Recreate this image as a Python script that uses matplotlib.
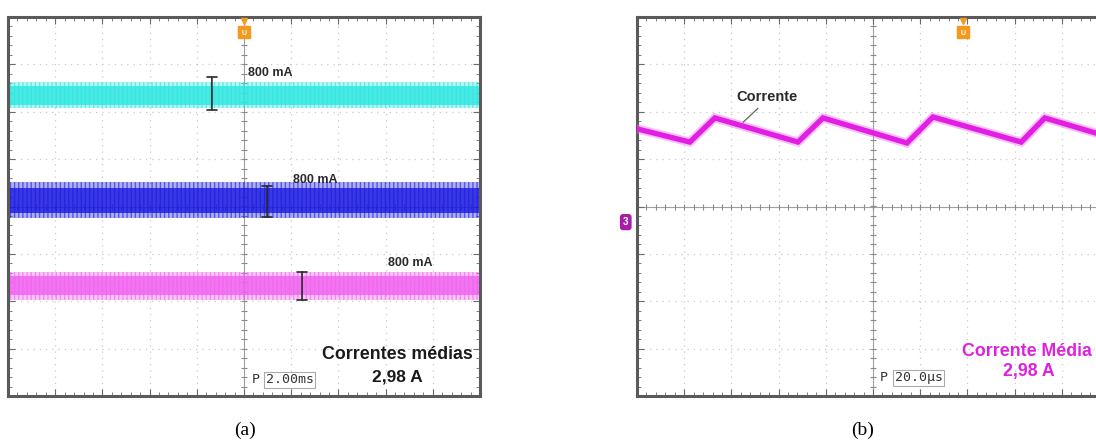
import numpy as np
import matplotlib
matplotlib.use("Agg")
import matplotlib.pyplot as plt

# ---------------- data (oscilloscope divisions) ----------------
a_names = ["cyan", "blue", "magenta"]
a_colors = ["#2ee6e0", "#1a1ae0", "#f060ee"]
a_outer_top = [2.63, 0.52, -1.38]
a_outer_bot = [2.08, -0.24, -1.97]
a_core_top = [2.55, 0.39, -1.47]
a_core_bot = [2.14, -0.14, -1.87]
a_x_ends = [-5.0, 5.0]
# ripple markers (I-bars) : x, y_top, y_bottom
a_bar_x = [-0.68, 0.49, 1.23]
a_bar_top = [2.73, 0.43, -1.38]
a_bar_bot = [2.04, -0.22, -1.97]
a_label_x = [0.08, 1.04, 3.05]
a_label_y = [2.82, 0.56, -1.19]
a_labels = ["800 mA", "800 mA", "800 mA"]

b_x = [-5.0, -3.88, -3.35, -1.59, -1.06, 0.72, 1.27, 3.14, 3.64, 4.72, 5.0]
b_y = [1.64, 1.36, 1.87, 1.36, 1.87, 1.34, 1.89, 1.36, 1.87, 1.55, 1.48]

a_timebase = "2.00ms"
b_timebase = "20.0\u00b5s"

# ---------------- figure ----------------
W, H = 1096, 440
fig = plt.figure(figsize=(W / 100, H / 100), dpi=100)
fig.patch.set_facecolor("white")
plt.rcParams["hatch.linewidth"] = 1.0

SANS = ["Liberation Sans", "DejaVu Sans"]
MONO = ["DejaVu Sans Mono"]


def scope_axes(rect):
    ax = fig.add_axes(rect)
    ax.set_xlim(-5, 5)
    ax.set_ylim(-4, 4)
    ax.set_facecolor("white")
    for s in ax.spines.values():
        s.set_color("#5a5a5a")
        s.set_linewidth(2.2)
    # dotted division grid
    for gx in range(-4, 5):
        if gx != 0:
            ax.axvline(gx, color="#c8c8c8", lw=0.9, ls=(0, (1, 4)), zorder=0)
    for gy in range(-3, 4):
        if gy != 0:
            ax.axhline(gy, color="#c8c8c8", lw=0.9, ls=(0, (1, 4)), zorder=0)
    # centre crosshair with minor ticks
    ax.axvline(0, color="#a0a0a0", lw=0.8, zorder=0)
    ax.axhline(0, color="#a0a0a0", lw=0.8, zorder=0)
    tx = np.arange(-5, 5.01, 0.2)
    ty = np.arange(-4, 4.01, 0.2)
    ax.plot(tx, np.zeros_like(tx), ls="none", marker="|", ms=4, color="#8a8a8a", mew=0.8, zorder=0)
    ax.plot(np.zeros_like(ty), ty, ls="none", marker="_", ms=4, color="#8a8a8a", mew=0.8, zorder=0)
    # border ticks
    ax.set_xticks(range(-5, 6))
    ax.set_yticks(range(-4, 5))
    ax.set_xticks(tx, minor=True)
    ax.set_yticks(ty, minor=True)
    ax.tick_params(which="both", direction="in", top=True, right=True,
                   labelbottom=False, labelleft=False, color="#6a6a6a")
    ax.tick_params(which="major", length=5, width=0.8)
    ax.tick_params(which="minor", length=3, width=0.6)
    return ax


def trigger(ax, x):
    ax.plot([x], [3.68], marker="s", ms=8, color="#f39a1e", clip_on=False, zorder=6)
    ax.text(x, 3.66, "U", fontsize=5, fontweight="bold", family=SANS, color="white",
            ha="center", va="center", zorder=7)
    ax.plot([x], [3.92], marker="v", ms=5, color="#f39a1e", clip_on=False, zorder=6)


bottom = (H - 396) / H
height = (396 - 17) / H
width = 472 / W

# ---------------- panel (a) ----------------
axa = scope_axes([8 / W, bottom, width, height])
for i in range(3):
    axa.fill_between(a_x_ends, [a_outer_bot[i]] * 2, [a_outer_top[i]] * 2,
                     facecolor=a_colors[i], alpha=0.35, lw=0, zorder=2)
    axa.fill_between(a_x_ends, [a_outer_bot[i]] * 2, [a_outer_top[i]] * 2,
                     facecolor="none", edgecolor=a_colors[i], hatch="||||", alpha=0.6,
                     lw=0, zorder=2)
    axa.fill_between(a_x_ends, [a_core_bot[i]] * 2, [a_core_top[i]] * 2,
                     color=a_colors[i], alpha=0.8, lw=0, zorder=2)
    axa.annotate("", xy=(a_bar_x[i], a_bar_bot[i]), xytext=(a_bar_x[i], a_bar_top[i]),
                 arrowprops=dict(arrowstyle="|-|,widthA=0.35,widthB=0.35",
                                 color="#2a2a2a", lw=1.2, shrinkA=0, shrinkB=0), zorder=4)
    axa.text(a_label_x[i], a_label_y[i], a_labels[i], fontsize=9, fontweight="bold",
             family=SANS, ha="left", va="center", color="#2a2a2a", zorder=5)

axa.text(3.24, -3.13, "Correntes médias", fontsize=12.8, fontweight="bold",
         family=SANS, ha="center", va="center", color="#1a1a1a", zorder=5)
axa.text(3.25, -3.60, "2,98 A", fontsize=12.5, fontweight="bold",
         family=SANS, ha="center", va="center", color="#1a1a1a", zorder=5)
axa.text(0.25, -3.66, "P", fontsize=9.5, family=MONO,
         ha="center", va="center", color="#333333", zorder=5)
axa.text(0.97, -3.66, a_timebase, fontsize=9.5, family=MONO,
         ha="center", va="center", color="#333333", zorder=5,
         bbox=dict(boxstyle="square,pad=0.12", fc="white", ec="#aaaaaa", lw=0.8))
trigger(axa, 0.0)

# ---------------- panel (b) ----------------
axb = scope_axes([637 / W, bottom, width, height])
axb.plot(b_x, b_y, color="#f070f0", lw=6.5, alpha=0.45, solid_joinstyle="miter", zorder=3)
axb.plot(b_x, b_y, color="#e21ee2", lw=3.8, solid_joinstyle="miter", zorder=3)
axb.text(-2.25, 2.31, "Corrente", fontsize=10.5, fontweight="bold", family=SANS,
         ha="center", va="center", color="#2a2a2a", zorder=5)
axb.plot([-2.44, -2.75], [2.07, 1.78], color="#5a6a5a", lw=0.9, zorder=5)
axb.text(3.27, -3.07, "Corrente Média", fontsize=12.8, fontweight="bold", family=SANS,
         ha="center", va="center", color="#dd22dd", zorder=5)
axb.text(3.31, -3.49, "2,98 A", fontsize=12.8, fontweight="bold", family=SANS,
         ha="center", va="center", color="#dd22dd", zorder=5)
axb.text(0.23, -3.62, "P", fontsize=9.5, family=MONO,
         ha="center", va="center", color="#333333", zorder=5)
axb.text(0.97, -3.62, b_timebase, fontsize=9.5, family=MONO,
         ha="center", va="center", color="#333333", zorder=5,
         bbox=dict(boxstyle="square,pad=0.12", fc="white", ec="#aaaaaa", lw=0.8))
trigger(axb, 1.9)
# channel 3 ground marker
axb.text(-5.18, -0.33, "3", fontsize=7, fontweight="bold", family=SANS, color="white",
         ha="right", va="center", clip_on=False, zorder=6,
         bbox=dict(boxstyle="round,pad=0.25", fc="#a81ea8", ec="#a81ea8"))

# ---------------- captions ----------------
fig.text(245 / W, 1 - 430 / H, "(a)", fontsize=14, family=["Liberation Serif", "DejaVu Serif"],
         ha="center", va="center", color="black")
fig.text(863 / W, 1 - 430 / H, "(b)", fontsize=14, family=["Liberation Serif", "DejaVu Serif"],
         ha="center", va="center", color="black")

fig.savefig("out.png", dpi=100, facecolor="white")
